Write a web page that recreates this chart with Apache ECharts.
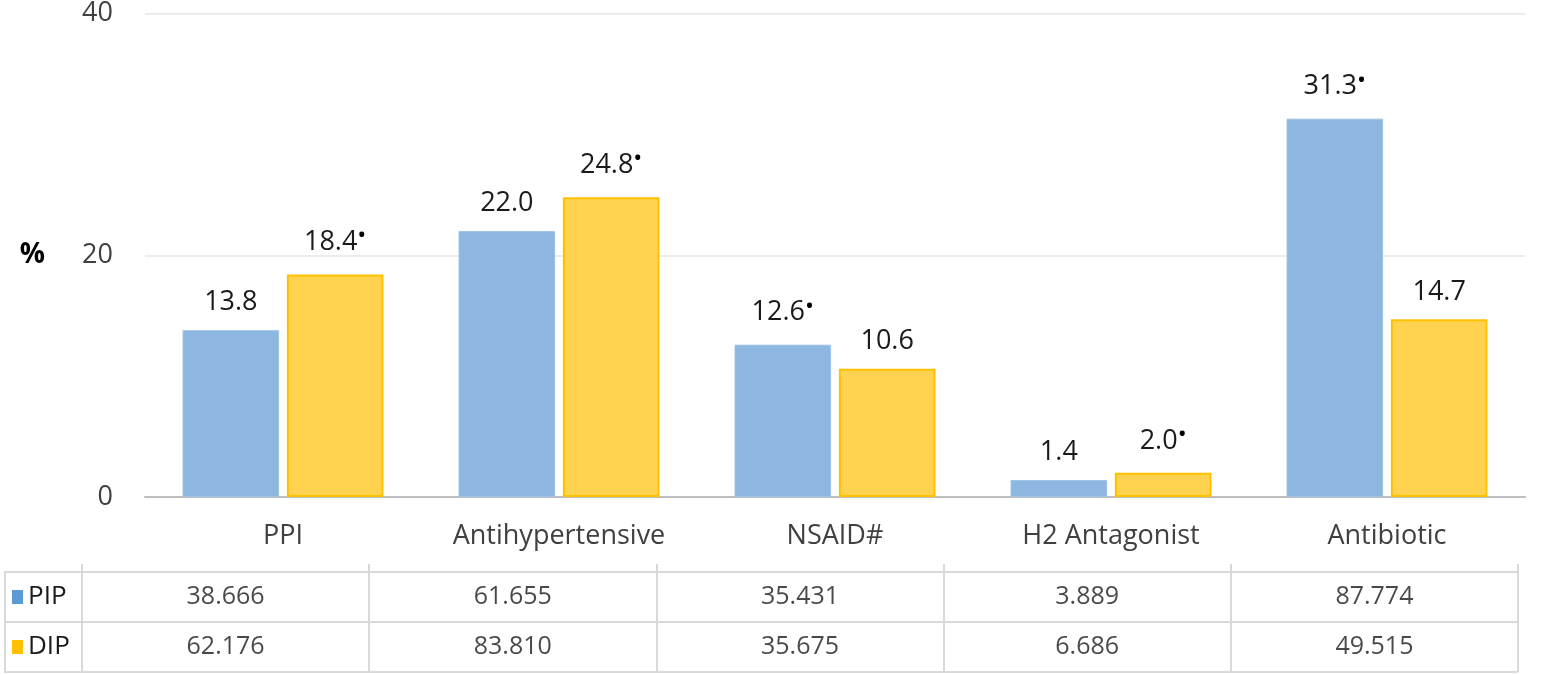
<!DOCTYPE html>
<html>
<head>
<meta charset="utf-8">
<script src="https://cdn.jsdelivr.net/npm/echarts@6/dist/echarts.min.js"></script>
<style>
html,body{margin:0;padding:0;background:#fff;}
#chart{width:1550px;height:675px;}
</style>
</head>
<body>
<div id="chart"></div>
<script>
const categories = ['PPI', 'Antihypertensive', 'NSAID#', 'H2 Antagonist', 'Antibiotic'];
const pipValues = [13.8, 22.0, 12.6, 1.4, 31.3];
const dipValues = [18.4, 24.8, 10.6, 2.0, 14.7];
const pipStar = [false, false, true, false, true];
const dipStar = [true, true, false, true, false];
const tableRows = ['PIP', 'DIP'];
const pipTable = [38.666, 61.655, 35.431, 3.889, 87.774];
const dipTable = [62.176, 83.810, 35.675, 6.686, 49.515];
const yTicks = [0, 20, 40];

const FONT = 'Open Sans';
const BLUE = '#8db6e1';
const YELLOW = '#ffd34f';
const TXT = '#404040';
const GRIDLINE = '#d9d9d9';

// layout constants
const T_LEFT = 82, T_RIGHT = 32, T_TOP = 572, T_BOTTOM = 3, LEG_LEFT = 5;

const chart = echarts.init(document.getElementById('chart'));

function barLabel(stars) {
  return {
    show: true,
    position: 'top',
    distance: 14,
    formatter: p => '{v|' + p.value.toFixed(1) + '}' + (stars[p.dataIndex] ? '{s|•}' : ''),
    rich: {
      v: { fontFamily: FONT, fontSize: 27, color: '#1a1a1a' },
      s: { fontFamily: FONT, fontSize: 24, color: '#000', padding: [0, 0, 12, 0] }
    }
  };
}

const tableData = [];
categories.forEach((c, i) => {
  tableData.push([i, 0, pipTable[i]]);
  tableData.push([i, 1, dipTable[i]]);
});

const tableH = 675 - T_TOP - T_BOTTOM;

chart.setOption({
  animation: false,
  grid: [
    { left: 145, right: 25, top: 12, bottom: 178, containLabel: false },
    { left: T_LEFT, right: T_RIGHT, top: T_TOP, bottom: T_BOTTOM, containLabel: false }
  ],
  xAxis: [
    {
      gridIndex: 0, type: 'category', data: categories,
      axisLine: { show: true, lineStyle: { color: '#bfbfbf', width: 2 } },
      axisTick: { show: false },
      axisLabel: { interval: 0, fontFamily: FONT, fontSize: 27, color: TXT, margin: 26 }
    },
    {
      gridIndex: 1, type: 'category', data: categories, position: 'top',
      axisLine: { show: true, lineStyle: { color: GRIDLINE, width: 2 } },
      axisTick: { show: true, length: 8, lineStyle: { color: GRIDLINE, width: 2 } },
      axisLabel: { show: false },
      splitLine: { show: true, lineStyle: { color: GRIDLINE, width: 2 } }
    }
  ],
  yAxis: [
    {
      gridIndex: 0, type: 'value', min: yTicks[0], max: yTicks[yTicks.length - 1], interval: 20,
      name: '%', nameLocation: 'middle', nameRotate: 0, nameGap: 100,
      nameTextStyle: { fontFamily: FONT, fontSize: 28, color: '#000', fontWeight: 'bold', padding: [10, 0, 0, 0] },
      axisLine: { show: false }, axisTick: { show: false },
      axisLabel: { fontFamily: FONT, fontSize: 27, color: TXT, margin: 32 },
      splitLine: { show: true, lineStyle: { color: '#ececec', width: 2 } }
    },
    {
      gridIndex: 1, type: 'category', data: tableRows, inverse: true,
      axisLine: { show: true, lineStyle: { color: GRIDLINE, width: 2 } },
      axisTick: { show: false },
      axisLabel: {
        align: 'left', margin: T_LEFT - 12,
        formatter: (v, i) => '{' + (i === 0 ? 'b' : 'y') + '|}{t|' + v + '}',
        rich: {
          b: { backgroundColor: '#5b9bd5', width: 11, height: 14 },
          y: { backgroundColor: '#ffc000', width: 11, height: 14 },
          t: { fontFamily: FONT, fontSize: 26, color: '#1a1a1a', padding: [0, 0, 0, 5] }
        }
      },
      splitLine: { show: true, lineStyle: { color: GRIDLINE, width: 2 } }
    }
  ],
  graphic: [
    {
      type: 'polyline',
      shape: { points: [[T_LEFT, T_TOP], [LEG_LEFT, T_TOP], [LEG_LEFT, T_TOP + tableH], [T_LEFT, T_TOP + tableH]] },
      style: { stroke: GRIDLINE, lineWidth: 2, fill: null }
    },
    {
      type: 'line',
      shape: { x1: LEG_LEFT, y1: T_TOP + tableH / 2, x2: T_LEFT, y2: T_TOP + tableH / 2 },
      style: { stroke: GRIDLINE, lineWidth: 2 }
    }
  ],
  series: [
    {
      name: 'PIP', type: 'bar', xAxisIndex: 0, yAxisIndex: 0, data: pipValues,
      barWidth: '35%', barGap: '8%',
      itemStyle: { color: BLUE, borderColor: '#9dc3e6', borderWidth: 1 },
      label: barLabel(pipStar)
    },
    {
      name: 'DIP', type: 'bar', xAxisIndex: 0, yAxisIndex: 0, data: dipValues,
      barWidth: '35%', barGap: '8%',
      itemStyle: { color: YELLOW, borderColor: '#ffc000', borderWidth: 2 },
      label: barLabel(dipStar)
    },
    {
      type: 'scatter', xAxisIndex: 1, yAxisIndex: 1, data: tableData,
      symbolSize: 0,
      label: {
        show: true, position: 'inside',
        formatter: p => p.value[2].toFixed(3),
        fontFamily: FONT, fontSize: 25, color: '#1a1a1a'
      }
    }
  ]
});
</script>
</body>
</html>
